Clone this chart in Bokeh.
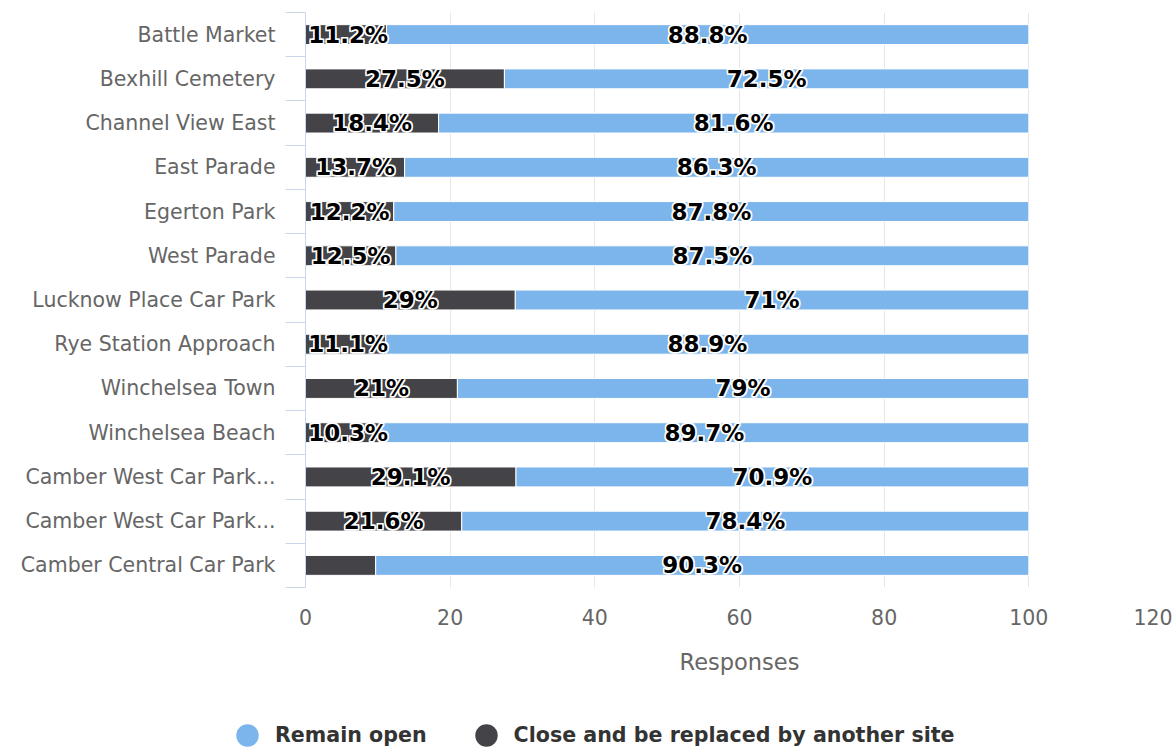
import numpy as np
from bokeh.plotting import figure
from bokeh.layouts import column
from bokeh.models import (Range1d, FixedTicker, Legend, LegendItem,
                          ColumnDataSource)
from bokeh.core.properties import value
from bokeh.embed import file_html
from bokeh.resources import INLINE

# ---------------- data ----------------
categories = [
    "Battle Market", "Bexhill Cemetery", "Channel View East", "East Parade",
    "Egerton Park", "West Parade", "Lucknow Place Car Park",
    "Rye Station Approach", "Winchelsea Town", "Winchelsea Beach",
    "Camber West Car Park...", "Camber West Car Park...",
    "Camber Central Car Park",
]
close_replaced = [11.2, 27.5, 18.4, 13.7, 12.2, 12.5, 29, 11.1, 21, 10.3, 29.1, 21.6, 9.7]
remain_open = [88.8, 72.5, 81.6, 86.3, 87.8, 87.5, 71, 88.9, 79, 89.7, 70.9, 78.4, 90.3]
close_label_shown = [True, True, True, True, True, True, True, True, True, True, True, True, False]
x_ticks = [0, 20, 40, 60, 80, 100, 120]
series_names = ["Remain open", "Close and be replaced by another site"]
series_colors = ["#7cb5ec", "#434348"]
x_title = "Responses"

# ---------------- layout constants ----------------
W = 1175
H_MAIN = 700
H_LEG = 48
FRAME_LEFT = 305
FRAME_RIGHT_GAP = 2
FRAME_TOP = 12
FRAME_BOTTOM = 587
FONT = "DejaVu Sans"
GREY = "#666666"

# ---------------- derived ----------------
n = len(categories)
pos = np.arange(n)
close = np.array(close_replaced, dtype=float)
remain = np.array(remain_open, dtype=float)

src = ColumnDataSource(dict(
    y=pos,
    close=close,
    total=close + remain,
    close_mid=np.maximum(close / 2.0, 5.9),
    remain_mid=close + remain / 2.0,
    close_lbl=[f"{v:g}%" if s else "" for v, s in zip(close_replaced, close_label_shown)],
    remain_lbl=[f"{v:g}%" for v in remain_open],
))

p = figure(width=W, height=H_MAIN, output_backend="svg", toolbar_location=None,
           x_range=Range1d(x_ticks[0], x_ticks[-1]),
           y_range=Range1d(n - 0.5, -0.5),
           min_border_left=FRAME_LEFT, min_border_right=FRAME_RIGHT_GAP,
           min_border_top=FRAME_TOP, min_border_bottom=H_MAIN - FRAME_BOTTOM)
p.frame_align = False
p.outline_line_color = None
p.background_fill_color = "white"
p.border_fill_color = "white"

BAR_H = 0.45
p.hbar(y="y", left=0, right="close", height=BAR_H, source=src,
       fill_color=series_colors[1], line_color="white", line_width=1)
p.hbar(y="y", left="close", right="total", height=BAR_H, source=src,
       fill_color=series_colors[0], line_color="white", line_width=1)

# data labels: white halo behind black bold text
lbl_base = dict(text_align="center", text_baseline="middle",
                text_font=value(FONT), text_font_style="bold",
                text_font_size="23px")
for dx, dy in [(-1, -1), (1, -1), (-1, 1), (1, 1)]:
    for xcol, tcol in [("close_mid", "close_lbl"), ("remain_mid", "remain_lbl")]:
        p.text(x=xcol, y="y", text=tcol, source=src, x_offset=dx, y_offset=dy,
               text_color="#ffffff", text_outline_color="#ffffff", **lbl_base)
for xcol, tcol in [("close_mid", "close_lbl"), ("remain_mid", "remain_lbl")]:
    p.text(x=xcol, y="y", text=tcol, source=src, text_color="#000000", **lbl_base)

# ---- category axis ----
yax = p.yaxis[0]
yax.ticker = FixedTicker(ticks=list(pos), minor_ticks=[i - 0.5 for i in range(n + 1)])
yax.major_label_overrides = {int(i): c for i, c in enumerate(categories)}
yax.axis_line_color = "#ccd6eb"
yax.axis_line_width = 1
yax.major_tick_line_color = None
yax.major_tick_out = 20
yax.major_tick_in = 0
yax.minor_tick_line_color = "#ccd6eb"
yax.minor_tick_out = 20
yax.minor_tick_in = 0
yax.major_label_standoff = 10
yax.major_label_text_font = FONT
yax.major_label_text_font_size = "20.5px"
yax.major_label_text_color = GREY

# ---- value axis ----
# like the original, the last tick label is pulled inside the plot edge
frame_w = W - FRAME_LEFT - FRAME_RIGHT_GAP
px_per_unit = frame_w / (x_ticks[-1] - x_ticks[0])
last_label_pos = round(x_ticks[-1] - 20.5 / px_per_unit, 3)
label_pos = [float(t) for t in x_ticks[:-1]] + [last_label_pos]

xax = p.xaxis[0]
xax.ticker = FixedTicker(ticks=label_pos)
xax.major_label_overrides = {lp: str(t) for lp, t in zip(label_pos, x_ticks)}
xax.axis_line_color = None
xax.major_tick_line_color = None
xax.minor_tick_line_color = None
xax.major_tick_out = 0
xax.major_tick_in = 0
xax.major_label_standoff = 21
xax.major_label_text_font = FONT
xax.major_label_text_font_size = "20.5px"
xax.major_label_text_color = GREY
xax.axis_label = x_title
xax.axis_label_text_font = FONT
xax.axis_label_text_font_size = "22.5px"
xax.axis_label_text_font_style = "normal"
xax.axis_label_text_color = GREY
xax.axis_label_standoff = 21

p.ygrid.visible = False
p.xgrid.ticker = FixedTicker(ticks=x_ticks)
p.xgrid.grid_line_color = "#e6e6e6"
p.xgrid.grid_line_width = 1

# ---- legend (own strip below the chart) ----
leg = figure(width=W, height=H_LEG, output_backend="svg", toolbar_location=None,
             x_axis_type=None, y_axis_type=None,
             x_range=Range1d(0, 1), y_range=Range1d(0, 1),
             min_border=0, min_border_left=0, min_border_right=0,
             min_border_top=0, min_border_bottom=0)
leg.frame_align = False
leg.outline_line_color = None
leg.background_fill_color = "white"
leg.border_fill_color = "white"
# legend-only renderers: one row of NaN so nothing is drawn in the plot itself
r_open = leg.scatter(x=[np.nan], y=[np.nan], marker="circle",
                     fill_color=series_colors[0], line_color=None)
r_close = leg.scatter(x=[np.nan], y=[np.nan], marker="circle",
                      fill_color=series_colors[1], line_color=None)
GLYPH = 56
legend = Legend(items=[LegendItem(label=value(series_names[0]), renderers=[r_open]),
                       LegendItem(label=value(series_names[1]), renderers=[r_close])],
                location=(219, -15), orientation="horizontal",
                glyph_width=GLYPH, glyph_height=GLYPH, label_standoff=0, spacing=31,
                padding=0, margin=0, border_line_color=None,
                background_fill_alpha=0,
                label_text_font=FONT, label_text_font_style="bold",
                label_text_font_size="20.6px", label_text_color="#333333")
leg.add_layout(legend, "center")

layout = column(p, leg, spacing=0)
open("out.html", "w").write(file_html(layout, INLINE))
